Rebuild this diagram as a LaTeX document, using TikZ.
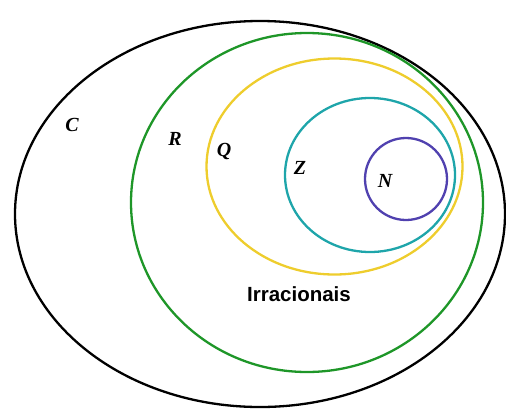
\documentclass[tikz,border=0pt]{standalone}
\usepackage{fontspec}
\setmainfont{Liberation Serif}
\setsansfont{Liberation Sans}
\definecolor{cgreen}{RGB}{30,150,40}
\definecolor{cyellow}{RGB}{238,205,45}
\definecolor{cteal}{RGB}{30,165,170}
\definecolor{cblue}{RGB}{80,65,175}
\begin{document}
\begin{tikzpicture}[x=1pt,y=-1pt,
  setline/.style={line width=2.3pt},
  setlabel/.style={font=\fontsize{20}{20}\selectfont\bfseries\itshape}]
\useasboundingbox (0,0) rectangle (506,410);
\draw[setline,black] (260,214) ellipse [x radius=245, y radius=193];
\draw[setline,cgreen] (307,202.5) ellipse [x radius=176, y radius=169.5];
\draw[setline,cyellow] (334.5,166.5) ellipse [x radius=128, y radius=108];
\draw[setline,cteal] (370,175) ellipse [x radius=85, y radius=77];
\draw[setline,cblue] (406,179) circle [radius=41];
\node[setlabel] (c) at (72,125) {C};
\node[setlabel] (r) at (175,139) {R};
\node[setlabel] (q) at (224,151) {Q};
\node[setlabel] (z) at (300,168) {Z};
\node[setlabel] (n) at (385,181) {N};
\node[font=\sffamily\bfseries\fontsize{20.5}{20.5}\selectfont] (irr) at (299,294) {Irracionais};
\end{tikzpicture}
\end{document}
